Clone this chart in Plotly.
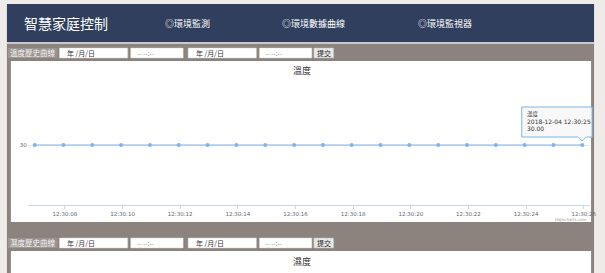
import plotly.graph_objects as go

# ---- data ----
series_name = "溫度"
second_title = "濕度"
times = [
    "2018-12-04 12:30:06.95", "2018-12-04 12:30:07.95", "2018-12-04 12:30:08.95",
    "2018-12-04 12:30:09.95", "2018-12-04 12:30:10.95", "2018-12-04 12:30:11.95",
    "2018-12-04 12:30:12.95", "2018-12-04 12:30:13.95", "2018-12-04 12:30:14.95",
    "2018-12-04 12:30:15.95", "2018-12-04 12:30:16.95", "2018-12-04 12:30:17.95",
    "2018-12-04 12:30:18.95", "2018-12-04 12:30:19.95", "2018-12-04 12:30:20.95",
    "2018-12-04 12:30:21.95", "2018-12-04 12:30:22.95", "2018-12-04 12:30:23.95",
    "2018-12-04 12:30:24.95", "2018-12-04 12:30:25.95",
]
values = [30, 30, 30, 30, 30, 30, 30, 30, 30, 30,
          30, 30, 30, 30, 30, 30, 30, 30, 30, 30]
y_tick_vals = [30]
y_tick_text = ["30"]
header_title = "智慧家庭控制"
menu_items = ["◎環境監測", "◎環境數據曲線", "◎環境監視器"]
row_labels = ["溫度歷史曲線", "濕度歷史曲線"]

W, H = 605, 273
CJK = "Noto Sans CJK TC"
SER = "#7cb5ec"
PAGE_BG = "#eeebe8"


def px(x):
    return x / W


def py(y):
    return 1 - y / H


fig = go.Figure()
fig.add_trace(go.Scatter(
    x=times, y=values, mode="lines+markers", name=series_name,
    line=dict(color=SER, width=1),
    marker=dict(color=SER, size=4),
    hoverinfo="skip", showlegend=False,
))

shapes = []
ann = []


def rect(x0, y0, x1, y1, fill, line=None, lw=0, layer="below"):
    shapes.append(dict(type="rect", xref="paper", yref="paper",
                       x0=px(x0), x1=px(x1), y0=py(y1), y1=py(y0),
                       fillcolor=fill, line=dict(color=line or fill, width=lw),
                       layer=layer))


def text(x, y, s, size, color, anchor="left", family=CJK, bold=False):
    if bold:
        s = "<b>" + s + "</b>"
    ann.append(dict(xref="paper", yref="paper", x=px(x), y=py(y), text=s,
                    showarrow=False, xanchor=anchor, yanchor="middle",
                    font=dict(family=family, size=size, color=color)))


# header
rect(7, 4, 600, 42, "#2f3f5d")
rect(7, 42, 600, 44, "#c9c8cf")
# gray band
rect(7, 44, 600, 273, "#8c837e")
# white chart boxes
rect(11, 61, 597, 222, "#ffffff")
rect(11, 251, 597, 273, "#ffffff")

text(22, 23, header_title, 14, "#ffffff")
text(165, 23, menu_items[0], 9, "#ffffff")
text(283, 23, menu_items[1], 9, "#ffffff")
text(420, 23, menu_items[2], 9, "#ffffff")

for i, yc in enumerate([53, 243]):
    rect(8, yc - 5, 58, yc + 5, "#9d9591")
    text(8, yc, row_labels[i], 7.5, "#f2f2f2")
    rect(60, yc - 5, 129, yc + 5, "#ffffff", "#d0d0d0", 0.5)
    text(66, yc, "年 /月/日", 7, "#333333")
    rect(132, yc - 5, 185, yc + 5, "#ffffff", "#d0d0d0", 0.5)
    text(136, yc, "-- --:--", 6.5, "#888888")
    text(187, yc, "-", 7, "#dddddd")
    rect(190, yc - 5, 259, yc + 5, "#ffffff", "#d0d0d0", 0.5)
    text(196, yc, "年 /月/日", 7, "#333333")
    rect(262, yc - 5, 315, yc + 5, "#ffffff", "#d0d0d0", 0.5)
    text(266, yc, "-- --:--", 6.5, "#888888")
    rect(317, yc - 5, 337, yc + 5, "#e8e8e8", "#bbbbbb", 0.5)
    text(327, yc, "提交", 7, "#222222", anchor="center")

# chart titles
text(305, 71, series_name, 9, "#333333", anchor="center")
text(305, 261, second_title, 9, "#333333", anchor="center")

# credit
text(595, 219.5, "Highcharts.com", 4, "#999999", anchor="right", family="DejaVu Sans")

# tooltip (callout)
bx0, by0, bx1, by1 = 527, 107, 598, 137
tip_x, tip_y = 588, 141
path = (f"M {px(bx0)},{py(by0)} L {px(bx1)},{py(by0)} L {px(bx1)},{py(by1)} "
        f"L {px(tip_x + 4)},{py(by1)} L {px(tip_x)},{py(tip_y)} L {px(tip_x - 4)},{py(by1)} "
        f"L {px(bx0)},{py(by1)} Z")
shapes.append(dict(type="path", xref="paper", yref="paper", path=path,
                   fillcolor="rgba(247,247,247,0.9)", line=dict(color=SER, width=1),
                   layer="above"))
text(530, 114, series_name, 5.5, "#333333")
text(530, 121, times[-1][:19], 6, "#333333", family="DejaVu Sans")
text(530, 128, f"{values[-1]:.2f}", 6, "#333333", family="DejaVu Sans")

fig.update_layout(
    width=W, height=H,
    margin=dict(l=0, r=0, t=0, b=0),
    paper_bgcolor=PAGE_BG,
    plot_bgcolor="#ffffff",
    shapes=shapes,
    annotations=ann,
    showlegend=False,
    xaxis=dict(
        domain=[px(28), px(596)],
        type="date",
        range=["2018-12-04 12:30:06.71", "2018-12-04 12:30:26.22"],
        tick0="2018-12-04 12:30:08", dtick=2000,
        tickformat="%H:%M:%S",
        showgrid=False, zeroline=False,
        showline=True, linecolor="#ccd6eb", linewidth=1,
        ticks="outside", ticklen=3, tickcolor="#ccd6eb",
        tickfont=dict(family="DejaVu Sans", size=5.5, color="#666666"),
    ),
    yaxis=dict(
        domain=[py(205), py(80)],
        range=[29.04, 31.04],
        tickvals=y_tick_vals, ticktext=y_tick_text,
        showgrid=True, gridcolor="#e6e6e6", zeroline=False,
        showline=False, ticks="",
        tickfont=dict(family="DejaVu Sans", size=5.5, color="#666666"),
    ),
)

post = ("document.documentElement.style.margin='0';"
        "document.documentElement.style.overflow='hidden';"
        "document.body.style.margin='0';"
        "document.body.style.overflow='hidden';"
        "document.body.style.background='" + PAGE_BG + "';")
fig.write_html("out.html", post_script=post, config={"displayModeBar": False})
